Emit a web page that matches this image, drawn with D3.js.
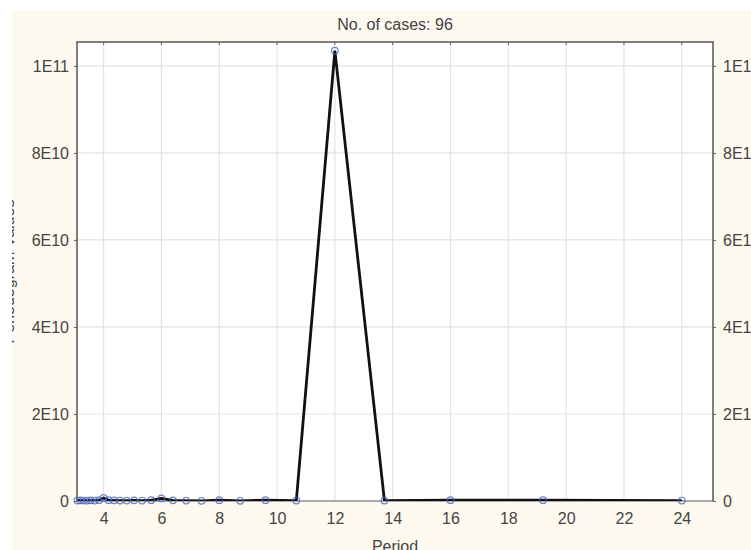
<!DOCTYPE html>
<html>
<head>
<meta charset="utf-8">
<script src="https://cdn.jsdelivr.net/npm/d3@7"></script>
<style>
  body { margin: 0; background: #fff; }
  svg { display: block; }
</style>
</head>
<body>
<script>
// periodogram, 96 cases: period = 96 / k
const periods = [24, 19.2, 16, 13.714, 12, 10.667, 9.6, 8.727, 8, 7.385, 6.857, 6.4, 6,
  5.647, 5.333, 5.053, 4.8, 4.571, 4.364, 4.174, 4, 3.84, 3.692, 3.556, 3.429, 3.31, 3.2, 3.097];
const values = [1.0e8, 2.0e8, 2.0e8, 1.0e8, 1.035e11, 1.0e8, 2.0e8, 5e7, 2.0e8, 5e7, 1.0e8, 1.5e8, 6e8,
  2.0e8, 1.0e8, 1.5e8, 1.0e8, 1.0e8, 1.5e8, 2.0e8, 7e8, 2.0e8, 1.0e8, 1.5e8, 1.0e8, 1.0e8, 1.5e8, 1.0e8];
const xTicks = [4, 6, 8, 10, 12, 14, 16, 18, 20, 22, 24];
const yTicks = [0, 2e10, 4e10, 6e10, 8e10, 1e11];
const title = "No. of cases: 96";
const xTitle = "Period";
const yTitle = "Periodogram Values";

const w = 751;
const h = 550;
const pLeft = 77, pRight = 713, pTop = 42, pBottom = 501;

const data = periods.map(function (p, i) { return [p, values[i]]; });

const xScale = d3.scaleLinear().domain([3.08, 25.08]).range([pLeft, pRight]);
const yScale = d3.scaleLinear().domain([0, 1.055e11]).range([pBottom, pTop]);

function fmt(d) {
  if (d === 0) return "0";
  const e = Math.floor(Math.log10(d) + 1e-9);
  return Math.round(d / Math.pow(10, e)) + "E" + e;
}

const svg = d3.select("body").append("svg").attr("width", w).attr("height", h)
  .style("font-family", "'Liberation Sans', Arial, sans-serif");

// cream panel
svg.append("rect").attr("x", 12).attr("y", 10).attr("width", w - 12).attr("height", h - 10)
  .attr("fill", "#fdf9ef");

// y title (cut off by the left edge of the panel)
svg.append("text")
  .attr("transform", "translate(14," + (pTop + pBottom) / 2 + ") rotate(-90)")
  .attr("text-anchor", "middle")
  .attr("font-size", "16px")
  .attr("fill", "#444")
  .text(yTitle);
svg.append("rect").attr("x", 0).attr("y", 0).attr("width", 12).attr("height", h).attr("fill", "#fff");
svg.append("rect").attr("x", 0).attr("y", 0).attr("width", w).attr("height", 10).attr("fill", "#fff");

// plot area
svg.append("rect").attr("x", pLeft).attr("y", pTop).attr("width", pRight - pLeft).attr("height", pBottom - pTop)
  .attr("fill", "#fff");

const grid = svg.append("g").attr("stroke", "#e3e3e3").attr("stroke-width", 1.2);
grid.selectAll(".gx").data(xTicks).enter().append("line")
  .attr("x1", function (d) { return xScale(d); }).attr("x2", function (d) { return xScale(d); })
  .attr("y1", pTop).attr("y2", pBottom);
grid.selectAll(".gy").data(yTicks.filter(function (d) { return d > 0; })).enter().append("line")
  .attr("y1", function (d) { return yScale(d); }).attr("y2", function (d) { return yScale(d); })
  .attr("x1", pLeft).attr("x2", pRight);

// axes
const xAxis = d3.axisBottom(xScale).tickValues(xTicks).tickSize(0).tickPadding(12);
const yAxisL = d3.axisLeft(yScale).tickValues(yTicks).tickFormat(fmt).tickSize(3).tickPadding(5);
const yAxisR = d3.axisRight(yScale).tickValues(yTicks).tickFormat(fmt).tickSize(3).tickPadding(7);

function styleAxis(g) {
  g.select(".domain").remove();
  g.selectAll("line").attr("stroke", "#666");
  g.selectAll("text").attr("font-size", "16px").attr("fill", "#444")
    .attr("font-family", "'Liberation Sans', Arial, sans-serif");
}

svg.append("g").attr("transform", "translate(0," + pBottom + ")").call(xAxis).call(styleAxis);
svg.append("g").attr("transform", "translate(" + pLeft + ",0)").call(yAxisL).call(styleAxis);
svg.append("g").attr("transform", "translate(" + pRight + ",0)").call(yAxisR).call(styleAxis);

// small tick marks along the top edge
svg.append("g").selectAll("line").data(xTicks).enter().append("line")
  .attr("x1", function (d) { return xScale(d); }).attr("x2", function (d) { return xScale(d); })
  .attr("y1", pTop).attr("y2", pTop + 3).attr("stroke", "#666");

// frame
svg.append("line").attr("x1", pLeft).attr("x2", pRight).attr("y1", pBottom).attr("y2", pBottom)
  .attr("stroke", "#aaa").attr("stroke-width", 2);
svg.append("path")
  .attr("d", "M" + pLeft + "," + pBottom + "V" + pTop + "H" + pRight + "V" + pBottom)
  .attr("fill", "none").attr("stroke", "#555").attr("stroke-width", 1.5);

// series
svg.append("clipPath").attr("id", "clip").append("rect")
  .attr("x", pLeft).attr("y", pTop - 6).attr("width", pRight - pLeft).attr("height", pBottom - pTop + 6);

const sorted = data.slice().sort(function (a, b) { return a[0] - b[0]; });
const line = d3.line()
  .x(function (d) { return xScale(d[0]); })
  .y(function (d) { return yScale(d[1]); });

svg.append("path").datum(sorted)
  .attr("clip-path", "url(#clip)")
  .attr("d", line)
  .attr("fill", "none")
  .attr("stroke", "#111")
  .attr("stroke-width", 2.8)
  .attr("stroke-linejoin", "miter");

svg.append("g").selectAll("circle").data(sorted).enter().append("circle")
  .attr("cx", function (d) { return xScale(d[0]); })
  .attr("cy", function (d) { return yScale(d[1]); })
  .attr("r", 3.3)
  .attr("fill", "none")
  .attr("stroke", "#4a66c4")
  .attr("stroke-width", 1.2)
  .attr("opacity", 0.8);

// titles
svg.append("text").attr("x", (pLeft + pRight) / 2).attr("y", 30)
  .attr("text-anchor", "middle").attr("font-size", "16px").attr("fill", "#444")
  .text(title);
svg.append("text").attr("x", (pLeft + pRight) / 2).attr("y", 552)
  .attr("text-anchor", "middle").attr("font-size", "16px").attr("fill", "#444")
  .text(xTitle);
</script>
</body>
</html>
